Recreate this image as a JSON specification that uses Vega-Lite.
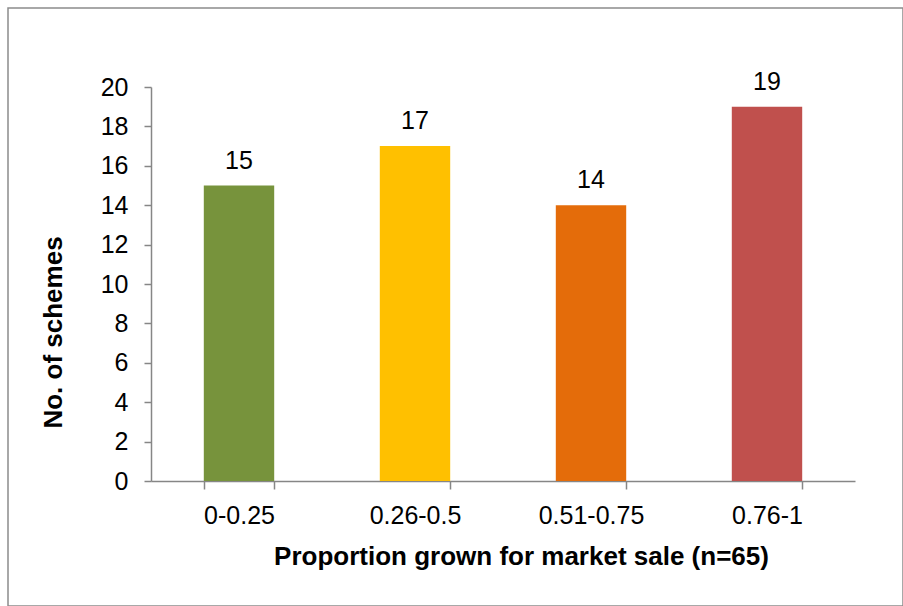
{
  "$schema": "https://vega.github.io/schema/vega-lite/v6.json",
  "autosize": "none",
  "width": 895,
  "height": 598,
  "padding": {"left": 8, "top": 8, "right": 0, "bottom": 0},
  "background": "white",
  "config": {
    "view": {"stroke": "#8c8c8c", "strokeWidth": 1.5},
    "font": "Liberation Sans"
  },
  "data": {
    "values": [
      {"cat": "0-0.25", "n": 15},
      {"cat": "0.26-0.5", "n": 17},
      {"cat": "0.51-0.75", "n": 14},
      {"cat": "0.76-1", "n": 19}
    ]
  },
  "encoding": {
    "x": {
      "field": "cat", "type": "nominal", "sort": null,
      "scale": {"range": [143, 847], "paddingInner": 0.6, "paddingOuter": 0.3},
      "axis": {
        "orient": "bottom", "offset": -125, "labelAngle": 0,
        "tickBand": "extent", "tickSize": 8, "tickColor": "#868686", "tickWidth": 1.5,
        "domainColor": "#868686", "domainWidth": 1.5,
        "labelFont": "Liberation Sans", "labelFontSize": 25, "labelColor": "#000", "labelPadding": 14,
        "title": "Proportion grown for market sale (n=65)",
        "titleFont": "Liberation Sans", "titleFontSize": 26, "titleFontWeight": "bold", "titleColor": "#000",
        "titlePadding": 15, "titleX": 513
      }
    },
    "y": {
      "field": "n", "type": "quantitative",
      "scale": {"domain": [0, 20], "range": [473, 79], "nice": false},
      "axis": {
        "orient": "left", "offset": -143, "values": [0,2,4,6,8,10,12,14,16,18,20], "grid": false,
        "tickSize": 7, "tickColor": "#868686", "tickWidth": 1.5,
        "domainColor": "#868686", "domainWidth": 1.5,
        "labelFont": "Liberation Sans", "labelFontSize": 25, "labelColor": "#000", "labelPadding": 16,
        "title": "No. of schemes",
        "titleFont": "Liberation Sans", "titleFontSize": 26, "titleFontWeight": "bold", "titleColor": "#000",
        "titlePadding": 34, "titleY": 324
      }
    }
  },
  "layer": [
    {
      "mark": {"type": "bar"},
      "encoding": {
        "color": {
          "field": "cat", "type": "nominal", "sort": null, "legend": null,
          "scale": {"domain": ["0-0.25", "0.26-0.5", "0.51-0.75", "0.76-1"], "range": ["#77933C", "#FFC000", "#E46C0A", "#C0504D"]}
        }
      }
    },
    {
      "mark": {"type": "text", "baseline": "alphabetic", "dy": -17, "fontSize": 25, "font": "Liberation Sans", "color": "#000"},
      "encoding": {"text": {"field": "n", "type": "quantitative"}}
    }
  ]
}
